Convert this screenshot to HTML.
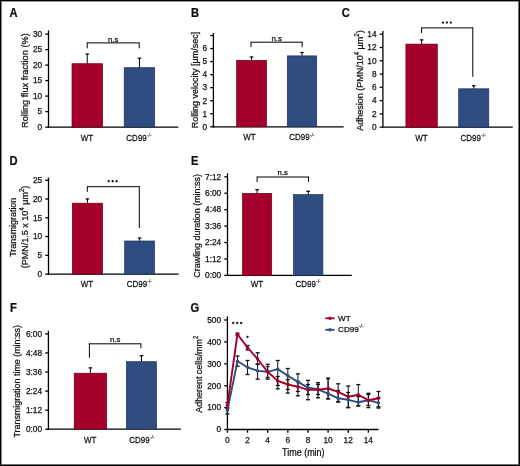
<!DOCTYPE html>
<html><head><meta charset="utf-8"><style>
html,body{margin:0;padding:0;background:#fff;}
.fig{position:relative;width:520px;height:466px;overflow:hidden;}
svg{position:absolute;left:0;top:0;will-change:transform;}
text{font-family:"Liberation Sans", sans-serif;fill:#111;stroke:#111;stroke-width:0.25px;}
</style></head><body><div class="fig">
<svg width="520" height="466" viewBox="0 0 520 466">
<rect x="0" y="0" width="520" height="466" fill="#fff"/>
<line x1="48.50" y1="30.40" x2="48.50" y2="127.75" stroke="#000" stroke-width="1.3"/>
<line x1="47.85" y1="127.10" x2="178.30" y2="127.10" stroke="#000" stroke-width="1.3"/>
<line x1="45.30" y1="127.10" x2="48.50" y2="127.10" stroke="#000" stroke-width="1.3"/>
<text x="42.20" y="129.90" font-size="8.3" text-anchor="end" font-weight="normal" >0</text>
<line x1="45.30" y1="111.60" x2="48.50" y2="111.60" stroke="#000" stroke-width="1.3"/>
<text x="42.20" y="114.40" font-size="8.3" text-anchor="end" font-weight="normal" >5</text>
<line x1="45.30" y1="96.10" x2="48.50" y2="96.10" stroke="#000" stroke-width="1.3"/>
<text x="42.20" y="98.90" font-size="8.3" text-anchor="end" font-weight="normal" >10</text>
<line x1="45.30" y1="80.60" x2="48.50" y2="80.60" stroke="#000" stroke-width="1.3"/>
<text x="42.20" y="83.40" font-size="8.3" text-anchor="end" font-weight="normal" >15</text>
<line x1="45.30" y1="65.10" x2="48.50" y2="65.10" stroke="#000" stroke-width="1.3"/>
<text x="42.20" y="67.90" font-size="8.3" text-anchor="end" font-weight="normal" >20</text>
<line x1="45.30" y1="49.60" x2="48.50" y2="49.60" stroke="#000" stroke-width="1.3"/>
<text x="42.20" y="52.40" font-size="8.3" text-anchor="end" font-weight="normal" >25</text>
<line x1="45.30" y1="34.10" x2="48.50" y2="34.10" stroke="#000" stroke-width="1.3"/>
<text x="42.20" y="36.90" font-size="8.3" text-anchor="end" font-weight="normal" >30</text>
<rect x="72.00" y="63.70" width="30.50" height="63.40" fill="#a5002b" stroke="#6a001c" stroke-width="0.7"/>
<line x1="87.25" y1="63.40" x2="87.25" y2="53.60" stroke="#000" stroke-width="1.0"/>
<line x1="85.45" y1="54.10" x2="89.05" y2="54.10" stroke="#000" stroke-width="1.2"/>
<rect x="124.20" y="67.70" width="30.50" height="59.40" fill="#2f4d80" stroke="#1c2f52" stroke-width="0.7"/>
<line x1="139.45" y1="67.40" x2="139.45" y2="57.70" stroke="#000" stroke-width="1.0"/>
<line x1="137.65" y1="58.20" x2="141.25" y2="58.20" stroke="#000" stroke-width="1.2"/>
<line x1="87.20" y1="48.30" x2="87.20" y2="42.40" stroke="#000" stroke-width="1.0"/>
<line x1="87.20" y1="42.90" x2="139.20" y2="42.90" stroke="#000" stroke-width="1.0"/>
<line x1="139.20" y1="42.40" x2="139.20" y2="48.30" stroke="#000" stroke-width="1.0"/>
<text x="113.20" y="41.60" font-size="7.8" text-anchor="middle" font-weight="normal" >n.s</text>
<text transform="translate(87.00,140.60) scale(0.87,1)" font-size="9.2" text-anchor="middle" font-weight="normal" >WT</text>
<text transform="translate(139.05,140.60) scale(0.87,1)" font-size="9.2" text-anchor="middle">CD99<tspan font-size="6.07" dy="-3.86" style="stroke-width:0.12px">-/-</tspan></text>
<text transform="translate(27.70,80.60) rotate(-90)" font-size="9.8" text-anchor="middle" textLength="94.70" lengthAdjust="spacingAndGlyphs">Rolling flux fraction (%)</text>
<text transform="translate(9.40,16.90) scale(0.93,1)" font-size="12" text-anchor="start" font-weight="bold" >A</text>
<line x1="213.40" y1="33.00" x2="213.40" y2="127.45" stroke="#000" stroke-width="1.3"/>
<line x1="212.75" y1="126.80" x2="343.70" y2="126.80" stroke="#000" stroke-width="1.3"/>
<line x1="210.20" y1="126.80" x2="213.40" y2="126.80" stroke="#000" stroke-width="1.3"/>
<text x="207.10" y="129.60" font-size="8.3" text-anchor="end" font-weight="normal" >0</text>
<line x1="210.20" y1="113.76" x2="213.40" y2="113.76" stroke="#000" stroke-width="1.3"/>
<text x="207.10" y="116.56" font-size="8.3" text-anchor="end" font-weight="normal" >1</text>
<line x1="210.20" y1="100.72" x2="213.40" y2="100.72" stroke="#000" stroke-width="1.3"/>
<text x="207.10" y="103.52" font-size="8.3" text-anchor="end" font-weight="normal" >2</text>
<line x1="210.20" y1="87.68" x2="213.40" y2="87.68" stroke="#000" stroke-width="1.3"/>
<text x="207.10" y="90.48" font-size="8.3" text-anchor="end" font-weight="normal" >3</text>
<line x1="210.20" y1="74.64" x2="213.40" y2="74.64" stroke="#000" stroke-width="1.3"/>
<text x="207.10" y="77.44" font-size="8.3" text-anchor="end" font-weight="normal" >4</text>
<line x1="210.20" y1="61.60" x2="213.40" y2="61.60" stroke="#000" stroke-width="1.3"/>
<text x="207.10" y="64.40" font-size="8.3" text-anchor="end" font-weight="normal" >5</text>
<line x1="210.20" y1="48.56" x2="213.40" y2="48.56" stroke="#000" stroke-width="1.3"/>
<text x="207.10" y="51.36" font-size="8.3" text-anchor="end" font-weight="normal" >6</text>
<line x1="210.20" y1="35.52" x2="213.40" y2="35.52" stroke="#000" stroke-width="1.3"/>
<rect x="236.60" y="60.40" width="29.90" height="66.40" fill="#a5002b" stroke="#6a001c" stroke-width="0.7"/>
<line x1="251.55" y1="60.10" x2="251.55" y2="56.50" stroke="#000" stroke-width="1.0"/>
<line x1="249.75" y1="57.00" x2="253.35" y2="57.00" stroke="#000" stroke-width="1.2"/>
<rect x="287.30" y="55.90" width="29.40" height="70.90" fill="#2f4d80" stroke="#1c2f52" stroke-width="0.7"/>
<line x1="302.00" y1="55.60" x2="302.00" y2="52.00" stroke="#000" stroke-width="1.0"/>
<line x1="300.20" y1="52.50" x2="303.80" y2="52.50" stroke="#000" stroke-width="1.2"/>
<line x1="251.00" y1="47.20" x2="251.00" y2="41.70" stroke="#000" stroke-width="1.0"/>
<line x1="251.00" y1="42.20" x2="302.20" y2="42.20" stroke="#000" stroke-width="1.0"/>
<line x1="302.20" y1="41.70" x2="302.20" y2="47.20" stroke="#000" stroke-width="1.0"/>
<text x="276.60" y="40.60" font-size="7.8" text-anchor="middle" font-weight="normal" >n.s</text>
<text transform="translate(249.40,140.40) scale(0.87,1)" font-size="9.2" text-anchor="middle" font-weight="normal" >WT</text>
<text transform="translate(301.90,140.40) scale(0.87,1)" font-size="9.2" text-anchor="middle">CD99<tspan font-size="6.07" dy="-3.86" style="stroke-width:0.12px">-/-</tspan></text>
<text transform="translate(197.50,80.10) rotate(-90)" font-size="9.8" text-anchor="middle" textLength="96.50" lengthAdjust="spacingAndGlyphs">Rolling velocity [µm/sec]</text>
<text transform="translate(191.10,16.90) scale(0.93,1)" font-size="12" text-anchor="start" font-weight="bold" >B</text>
<line x1="382.90" y1="31.10" x2="382.90" y2="127.85" stroke="#000" stroke-width="1.3"/>
<line x1="382.25" y1="127.20" x2="512.80" y2="127.20" stroke="#000" stroke-width="1.3"/>
<line x1="379.70" y1="127.20" x2="382.90" y2="127.20" stroke="#000" stroke-width="1.3"/>
<text x="376.60" y="130.00" font-size="8.3" text-anchor="end" font-weight="normal" >0</text>
<line x1="379.70" y1="113.91" x2="382.90" y2="113.91" stroke="#000" stroke-width="1.3"/>
<text x="376.60" y="116.71" font-size="8.3" text-anchor="end" font-weight="normal" >2</text>
<line x1="379.70" y1="100.63" x2="382.90" y2="100.63" stroke="#000" stroke-width="1.3"/>
<text x="376.60" y="103.43" font-size="8.3" text-anchor="end" font-weight="normal" >4</text>
<line x1="379.70" y1="87.34" x2="382.90" y2="87.34" stroke="#000" stroke-width="1.3"/>
<text x="376.60" y="90.14" font-size="8.3" text-anchor="end" font-weight="normal" >6</text>
<line x1="379.70" y1="74.06" x2="382.90" y2="74.06" stroke="#000" stroke-width="1.3"/>
<text x="376.60" y="76.86" font-size="8.3" text-anchor="end" font-weight="normal" >8</text>
<line x1="379.70" y1="60.77" x2="382.90" y2="60.77" stroke="#000" stroke-width="1.3"/>
<text x="376.60" y="63.57" font-size="8.3" text-anchor="end" font-weight="normal" >10</text>
<line x1="379.70" y1="47.49" x2="382.90" y2="47.49" stroke="#000" stroke-width="1.3"/>
<text x="376.60" y="50.29" font-size="8.3" text-anchor="end" font-weight="normal" >12</text>
<line x1="379.70" y1="34.20" x2="382.90" y2="34.20" stroke="#000" stroke-width="1.3"/>
<text x="376.60" y="37.00" font-size="8.3" text-anchor="end" font-weight="normal" >14</text>
<rect x="405.90" y="44.10" width="31.40" height="83.10" fill="#a5002b" stroke="#6a001c" stroke-width="0.7"/>
<line x1="421.60" y1="43.80" x2="421.60" y2="39.40" stroke="#000" stroke-width="1.0"/>
<line x1="419.80" y1="39.90" x2="423.40" y2="39.90" stroke="#000" stroke-width="1.2"/>
<rect x="458.70" y="88.80" width="30.10" height="38.40" fill="#2f4d80" stroke="#1c2f52" stroke-width="0.7"/>
<line x1="473.75" y1="88.50" x2="473.75" y2="85.20" stroke="#000" stroke-width="1.0"/>
<line x1="471.95" y1="85.70" x2="475.55" y2="85.70" stroke="#000" stroke-width="1.2"/>
<line x1="421.60" y1="33.20" x2="421.60" y2="27.40" stroke="#000" stroke-width="1.0"/>
<line x1="421.60" y1="27.90" x2="472.80" y2="27.90" stroke="#000" stroke-width="1.0"/>
<line x1="472.80" y1="27.40" x2="472.80" y2="76.80" stroke="#000" stroke-width="1.0"/>
<circle cx="443.00" cy="22.60" r="1.15" fill="#111"/>
<circle cx="446.90" cy="22.60" r="1.15" fill="#111"/>
<circle cx="450.80" cy="22.60" r="1.15" fill="#111"/>
<text transform="translate(421.50,141.00) scale(0.87,1)" font-size="9.2" text-anchor="middle" font-weight="normal" >WT</text>
<text transform="translate(473.15,141.00) scale(0.87,1)" font-size="9.2" text-anchor="middle">CD99<tspan font-size="6.07" dy="-3.86" style="stroke-width:0.12px">-/-</tspan></text>
<text transform="translate(362.90,80.60) rotate(-90)" font-size="9.8" text-anchor="middle" textLength="100.50" lengthAdjust="spacingAndGlyphs">Adhesion (PMN/10<tspan font-size="6.5" dy="-4.3">4</tspan><tspan dy="4.3"> µm</tspan><tspan font-size="6.5" dy="-4.3">2</tspan><tspan dy="4.3">)</tspan></text>
<text transform="translate(341.70,17.10) scale(0.93,1)" font-size="12" text-anchor="start" font-weight="bold" >C</text>
<line x1="48.50" y1="177.60" x2="48.50" y2="274.75" stroke="#000" stroke-width="1.3"/>
<line x1="47.85" y1="274.10" x2="178.60" y2="274.10" stroke="#000" stroke-width="1.3"/>
<line x1="45.30" y1="274.10" x2="48.50" y2="274.10" stroke="#000" stroke-width="1.3"/>
<text x="42.20" y="276.90" font-size="8.3" text-anchor="end" font-weight="normal" >0</text>
<line x1="45.30" y1="255.34" x2="48.50" y2="255.34" stroke="#000" stroke-width="1.3"/>
<text x="42.20" y="258.14" font-size="8.3" text-anchor="end" font-weight="normal" >5</text>
<line x1="45.30" y1="236.58" x2="48.50" y2="236.58" stroke="#000" stroke-width="1.3"/>
<text x="42.20" y="239.38" font-size="8.3" text-anchor="end" font-weight="normal" >10</text>
<line x1="45.30" y1="217.82" x2="48.50" y2="217.82" stroke="#000" stroke-width="1.3"/>
<text x="42.20" y="220.62" font-size="8.3" text-anchor="end" font-weight="normal" >15</text>
<line x1="45.30" y1="199.06" x2="48.50" y2="199.06" stroke="#000" stroke-width="1.3"/>
<text x="42.20" y="201.86" font-size="8.3" text-anchor="end" font-weight="normal" >20</text>
<line x1="45.30" y1="180.30" x2="48.50" y2="180.30" stroke="#000" stroke-width="1.3"/>
<text x="42.20" y="183.10" font-size="8.3" text-anchor="end" font-weight="normal" >25</text>
<rect x="72.30" y="203.20" width="30.30" height="70.90" fill="#a5002b" stroke="#6a001c" stroke-width="0.7"/>
<line x1="87.45" y1="202.90" x2="87.45" y2="198.40" stroke="#000" stroke-width="1.0"/>
<line x1="85.65" y1="198.90" x2="89.25" y2="198.90" stroke="#000" stroke-width="1.2"/>
<rect x="124.70" y="241.00" width="29.80" height="33.10" fill="#2f4d80" stroke="#1c2f52" stroke-width="0.7"/>
<line x1="139.60" y1="240.70" x2="139.60" y2="237.60" stroke="#000" stroke-width="1.0"/>
<line x1="137.80" y1="238.10" x2="141.40" y2="238.10" stroke="#000" stroke-width="1.2"/>
<line x1="87.30" y1="191.80" x2="87.30" y2="186.20" stroke="#000" stroke-width="1.0"/>
<line x1="87.30" y1="186.70" x2="139.30" y2="186.70" stroke="#000" stroke-width="1.0"/>
<line x1="139.30" y1="186.20" x2="139.30" y2="228.00" stroke="#000" stroke-width="1.0"/>
<circle cx="108.75" cy="181.25" r="1.15" fill="#111"/>
<circle cx="112.65" cy="181.25" r="1.15" fill="#111"/>
<circle cx="116.55" cy="181.25" r="1.15" fill="#111"/>
<text transform="translate(86.90,287.10) scale(0.87,1)" font-size="9.2" text-anchor="middle" font-weight="normal" >WT</text>
<text transform="translate(139.40,287.10) scale(0.87,1)" font-size="9.2" text-anchor="middle">CD99<tspan font-size="6.07" dy="-3.86" style="stroke-width:0.12px">-/-</tspan></text>
<text transform="translate(15.60,227.25) rotate(-90)" font-size="9.6" text-anchor="middle" textLength="59.00" lengthAdjust="spacingAndGlyphs">Transmigration</text>
<text transform="translate(27.90,226.95) rotate(-90)" font-size="9.6" text-anchor="middle" textLength="82.50" lengthAdjust="spacingAndGlyphs">(PMN/1.5 x 10<tspan font-size="6.5" dy="-4.3">4</tspan><tspan dy="4.3"> µm</tspan><tspan font-size="6.5" dy="-4.3">2</tspan><tspan dy="4.3">)</tspan></text>
<text transform="translate(9.40,164.80) scale(0.93,1)" font-size="12" text-anchor="start" font-weight="bold" >D</text>
<line x1="227.50" y1="173.30" x2="227.50" y2="276.05" stroke="#000" stroke-width="1.3"/>
<line x1="226.85" y1="275.40" x2="351.80" y2="275.40" stroke="#000" stroke-width="1.3"/>
<line x1="224.30" y1="275.40" x2="227.50" y2="275.40" stroke="#000" stroke-width="1.3"/>
<text x="221.20" y="278.20" font-size="8.3" text-anchor="end" font-weight="normal" >0:00</text>
<line x1="224.30" y1="258.97" x2="227.50" y2="258.97" stroke="#000" stroke-width="1.3"/>
<text x="221.20" y="261.77" font-size="8.3" text-anchor="end" font-weight="normal" >1:12</text>
<line x1="224.30" y1="242.53" x2="227.50" y2="242.53" stroke="#000" stroke-width="1.3"/>
<text x="221.20" y="245.33" font-size="8.3" text-anchor="end" font-weight="normal" >2:24</text>
<line x1="224.30" y1="226.10" x2="227.50" y2="226.10" stroke="#000" stroke-width="1.3"/>
<text x="221.20" y="228.90" font-size="8.3" text-anchor="end" font-weight="normal" >3:36</text>
<line x1="224.30" y1="209.67" x2="227.50" y2="209.67" stroke="#000" stroke-width="1.3"/>
<text x="221.20" y="212.47" font-size="8.3" text-anchor="end" font-weight="normal" >4:48</text>
<line x1="224.30" y1="193.23" x2="227.50" y2="193.23" stroke="#000" stroke-width="1.3"/>
<text x="221.20" y="196.03" font-size="8.3" text-anchor="end" font-weight="normal" >6:00</text>
<line x1="224.30" y1="176.80" x2="227.50" y2="176.80" stroke="#000" stroke-width="1.3"/>
<text x="221.20" y="179.60" font-size="8.3" text-anchor="end" font-weight="normal" >7:12</text>
<rect x="242.50" y="193.40" width="29.20" height="82.00" fill="#a5002b" stroke="#6a001c" stroke-width="0.7"/>
<line x1="257.10" y1="193.10" x2="257.10" y2="189.20" stroke="#000" stroke-width="1.0"/>
<line x1="255.30" y1="189.70" x2="258.90" y2="189.70" stroke="#000" stroke-width="1.2"/>
<rect x="293.50" y="194.60" width="29.40" height="80.80" fill="#2f4d80" stroke="#1c2f52" stroke-width="0.7"/>
<line x1="308.20" y1="194.30" x2="308.20" y2="190.80" stroke="#000" stroke-width="1.0"/>
<line x1="306.40" y1="191.30" x2="310.00" y2="191.30" stroke="#000" stroke-width="1.2"/>
<line x1="257.10" y1="182.00" x2="257.10" y2="176.50" stroke="#000" stroke-width="1.0"/>
<line x1="257.10" y1="177.00" x2="308.50" y2="177.00" stroke="#000" stroke-width="1.0"/>
<line x1="308.50" y1="176.50" x2="308.50" y2="182.00" stroke="#000" stroke-width="1.0"/>
<text x="282.80" y="175.00" font-size="7.8" text-anchor="middle" font-weight="normal" >n.s</text>
<text transform="translate(256.90,286.90) scale(0.87,1)" font-size="9.2" text-anchor="middle" font-weight="normal" >WT</text>
<text transform="translate(308.15,286.90) scale(0.87,1)" font-size="9.2" text-anchor="middle">CD99<tspan font-size="6.07" dy="-3.86" style="stroke-width:0.12px">-/-</tspan></text>
<text transform="translate(200.30,225.90) rotate(-90)" font-size="9.8" text-anchor="middle" textLength="103.50" lengthAdjust="spacingAndGlyphs">Crawling duration (min:ss)</text>
<text transform="translate(190.90,165.00) scale(0.93,1)" font-size="12" text-anchor="start" font-weight="bold" >E</text>
<line x1="48.40" y1="330.80" x2="48.40" y2="429.85" stroke="#000" stroke-width="1.3"/>
<line x1="47.75" y1="429.20" x2="180.80" y2="429.20" stroke="#000" stroke-width="1.3"/>
<line x1="45.20" y1="429.20" x2="48.40" y2="429.20" stroke="#000" stroke-width="1.3"/>
<text x="42.10" y="432.00" font-size="8.3" text-anchor="end" font-weight="normal" >0:00</text>
<line x1="45.20" y1="410.14" x2="48.40" y2="410.14" stroke="#000" stroke-width="1.3"/>
<text x="42.10" y="412.94" font-size="8.3" text-anchor="end" font-weight="normal" >1:12</text>
<line x1="45.20" y1="391.08" x2="48.40" y2="391.08" stroke="#000" stroke-width="1.3"/>
<text x="42.10" y="393.88" font-size="8.3" text-anchor="end" font-weight="normal" >2:24</text>
<line x1="45.20" y1="372.02" x2="48.40" y2="372.02" stroke="#000" stroke-width="1.3"/>
<text x="42.10" y="374.82" font-size="8.3" text-anchor="end" font-weight="normal" >3:36</text>
<line x1="45.20" y1="352.96" x2="48.40" y2="352.96" stroke="#000" stroke-width="1.3"/>
<text x="42.10" y="355.76" font-size="8.3" text-anchor="end" font-weight="normal" >4:48</text>
<line x1="45.20" y1="333.90" x2="48.40" y2="333.90" stroke="#000" stroke-width="1.3"/>
<text x="42.10" y="336.70" font-size="8.3" text-anchor="end" font-weight="normal" >6:00</text>
<rect x="74.20" y="373.20" width="32.40" height="56.00" fill="#a5002b" stroke="#6a001c" stroke-width="0.7"/>
<line x1="90.40" y1="372.90" x2="90.40" y2="367.40" stroke="#000" stroke-width="1.0"/>
<line x1="88.60" y1="367.90" x2="92.20" y2="367.90" stroke="#000" stroke-width="1.2"/>
<rect x="126.40" y="361.70" width="30.10" height="67.50" fill="#2f4d80" stroke="#1c2f52" stroke-width="0.7"/>
<line x1="141.45" y1="361.40" x2="141.45" y2="355.20" stroke="#000" stroke-width="1.0"/>
<line x1="139.65" y1="355.70" x2="143.25" y2="355.70" stroke="#000" stroke-width="1.2"/>
<line x1="89.40" y1="357.70" x2="89.40" y2="343.30" stroke="#000" stroke-width="1.0"/>
<line x1="89.40" y1="343.80" x2="140.90" y2="343.80" stroke="#000" stroke-width="1.0"/>
<line x1="140.90" y1="343.30" x2="140.90" y2="348.30" stroke="#000" stroke-width="1.0"/>
<text x="115.15" y="342.10" font-size="7.8" text-anchor="middle" font-weight="normal" >n.s</text>
<text transform="translate(90.20,442.60) scale(0.87,1)" font-size="9.2" text-anchor="middle" font-weight="normal" >WT</text>
<text transform="translate(142.00,442.60) scale(0.87,1)" font-size="9.2" text-anchor="middle">CD99<tspan font-size="6.07" dy="-3.86" style="stroke-width:0.12px">-/-</tspan></text>
<text transform="translate(20.20,381.35) rotate(-90)" font-size="9.8" text-anchor="middle" textLength="112.50" lengthAdjust="spacingAndGlyphs">Transmigration time (min:ss)</text>
<text transform="translate(9.90,311.80) scale(0.93,1)" font-size="12" text-anchor="start" font-weight="bold" >F</text>
<line x1="227.40" y1="316.40" x2="227.40" y2="430.15" stroke="#000" stroke-width="1.3"/>
<line x1="226.75" y1="429.50" x2="378.50" y2="429.50" stroke="#000" stroke-width="1.3"/>
<line x1="224.20" y1="429.50" x2="227.40" y2="429.50" stroke="#000" stroke-width="1.3"/>
<text x="221.10" y="432.30" font-size="8.3" text-anchor="end" font-weight="normal" >0</text>
<line x1="224.20" y1="407.60" x2="227.40" y2="407.60" stroke="#000" stroke-width="1.3"/>
<text x="221.10" y="410.40" font-size="8.3" text-anchor="end" font-weight="normal" >100</text>
<line x1="224.20" y1="385.70" x2="227.40" y2="385.70" stroke="#000" stroke-width="1.3"/>
<text x="221.10" y="388.50" font-size="8.3" text-anchor="end" font-weight="normal" >200</text>
<line x1="224.20" y1="363.80" x2="227.40" y2="363.80" stroke="#000" stroke-width="1.3"/>
<text x="221.10" y="366.60" font-size="8.3" text-anchor="end" font-weight="normal" >300</text>
<line x1="224.20" y1="341.90" x2="227.40" y2="341.90" stroke="#000" stroke-width="1.3"/>
<text x="221.10" y="344.70" font-size="8.3" text-anchor="end" font-weight="normal" >400</text>
<line x1="224.20" y1="320.00" x2="227.40" y2="320.00" stroke="#000" stroke-width="1.3"/>
<text x="221.10" y="322.80" font-size="8.3" text-anchor="end" font-weight="normal" >500</text>
<line x1="227.40" y1="429.50" x2="227.40" y2="432.70" stroke="#000" stroke-width="1.3"/>
<text x="227.40" y="442.80" font-size="8.3" text-anchor="middle" font-weight="normal" >0</text>
<line x1="247.54" y1="429.50" x2="247.54" y2="432.70" stroke="#000" stroke-width="1.3"/>
<text x="247.54" y="442.80" font-size="8.3" text-anchor="middle" font-weight="normal" >2</text>
<line x1="267.68" y1="429.50" x2="267.68" y2="432.70" stroke="#000" stroke-width="1.3"/>
<text x="267.68" y="442.80" font-size="8.3" text-anchor="middle" font-weight="normal" >4</text>
<line x1="287.82" y1="429.50" x2="287.82" y2="432.70" stroke="#000" stroke-width="1.3"/>
<text x="287.82" y="442.80" font-size="8.3" text-anchor="middle" font-weight="normal" >6</text>
<line x1="307.96" y1="429.50" x2="307.96" y2="432.70" stroke="#000" stroke-width="1.3"/>
<text x="307.96" y="442.80" font-size="8.3" text-anchor="middle" font-weight="normal" >8</text>
<line x1="328.10" y1="429.50" x2="328.10" y2="432.70" stroke="#000" stroke-width="1.3"/>
<text x="328.10" y="442.80" font-size="8.3" text-anchor="middle" font-weight="normal" >10</text>
<line x1="348.24" y1="429.50" x2="348.24" y2="432.70" stroke="#000" stroke-width="1.3"/>
<text x="348.24" y="442.80" font-size="8.3" text-anchor="middle" font-weight="normal" >12</text>
<line x1="368.38" y1="429.50" x2="368.38" y2="432.70" stroke="#000" stroke-width="1.3"/>
<text x="368.38" y="442.80" font-size="8.3" text-anchor="middle" font-weight="normal" >14</text>
<text transform="translate(303.30,456.30) scale(0.9,1)" font-size="10.0" text-anchor="middle" font-weight="normal" >Time (min)</text>
<text transform="translate(202.10,374.25) rotate(-90)" font-size="9.8" text-anchor="middle" textLength="77.00" lengthAdjust="spacingAndGlyphs">Adherent cells/mm<tspan font-size="6.5" dy="-4.3">2</tspan></text>
<text transform="translate(190.40,311.80) scale(0.93,1)" font-size="12" text-anchor="start" font-weight="bold" >G</text>
<line x1="227.40" y1="407.00" x2="227.40" y2="414.30" stroke="#111" stroke-width="1.0"/>
<line x1="225.40" y1="407.50" x2="229.40" y2="407.50" stroke="#111" stroke-width="1.3"/>
<line x1="225.40" y1="413.80" x2="229.40" y2="413.80" stroke="#111" stroke-width="1.3"/>
<line x1="237.47" y1="355.60" x2="237.47" y2="366.80" stroke="#111" stroke-width="1.0"/>
<line x1="235.47" y1="356.10" x2="239.47" y2="356.10" stroke="#111" stroke-width="1.3"/>
<line x1="235.47" y1="366.30" x2="239.47" y2="366.30" stroke="#111" stroke-width="1.3"/>
<line x1="247.54" y1="360.00" x2="247.54" y2="375.00" stroke="#111" stroke-width="1.0"/>
<line x1="245.54" y1="360.50" x2="249.54" y2="360.50" stroke="#111" stroke-width="1.3"/>
<line x1="245.54" y1="374.50" x2="249.54" y2="374.50" stroke="#111" stroke-width="1.3"/>
<line x1="257.61" y1="363.80" x2="257.61" y2="379.60" stroke="#111" stroke-width="1.0"/>
<line x1="255.61" y1="364.30" x2="259.61" y2="364.30" stroke="#111" stroke-width="1.3"/>
<line x1="255.61" y1="379.10" x2="259.61" y2="379.10" stroke="#111" stroke-width="1.3"/>
<line x1="267.68" y1="363.80" x2="267.68" y2="379.60" stroke="#111" stroke-width="1.0"/>
<line x1="265.68" y1="364.30" x2="269.68" y2="364.30" stroke="#111" stroke-width="1.3"/>
<line x1="265.68" y1="379.10" x2="269.68" y2="379.10" stroke="#111" stroke-width="1.3"/>
<line x1="277.75" y1="360.00" x2="277.75" y2="389.30" stroke="#111" stroke-width="1.0"/>
<line x1="275.75" y1="360.50" x2="279.75" y2="360.50" stroke="#111" stroke-width="1.3"/>
<line x1="275.75" y1="388.80" x2="279.75" y2="388.80" stroke="#111" stroke-width="1.3"/>
<line x1="287.82" y1="368.00" x2="287.82" y2="393.50" stroke="#111" stroke-width="1.0"/>
<line x1="285.82" y1="368.50" x2="289.82" y2="368.50" stroke="#111" stroke-width="1.3"/>
<line x1="285.82" y1="393.00" x2="289.82" y2="393.00" stroke="#111" stroke-width="1.3"/>
<line x1="297.89" y1="373.40" x2="297.89" y2="396.30" stroke="#111" stroke-width="1.0"/>
<line x1="295.89" y1="373.90" x2="299.89" y2="373.90" stroke="#111" stroke-width="1.3"/>
<line x1="295.89" y1="395.80" x2="299.89" y2="395.80" stroke="#111" stroke-width="1.3"/>
<line x1="307.96" y1="379.90" x2="307.96" y2="400.20" stroke="#111" stroke-width="1.0"/>
<line x1="305.96" y1="380.40" x2="309.96" y2="380.40" stroke="#111" stroke-width="1.3"/>
<line x1="305.96" y1="399.70" x2="309.96" y2="399.70" stroke="#111" stroke-width="1.3"/>
<line x1="318.03" y1="382.20" x2="318.03" y2="398.30" stroke="#111" stroke-width="1.0"/>
<line x1="316.03" y1="382.70" x2="320.03" y2="382.70" stroke="#111" stroke-width="1.3"/>
<line x1="316.03" y1="397.80" x2="320.03" y2="397.80" stroke="#111" stroke-width="1.3"/>
<line x1="328.10" y1="377.70" x2="328.10" y2="399.20" stroke="#111" stroke-width="1.0"/>
<line x1="326.10" y1="378.20" x2="330.10" y2="378.20" stroke="#111" stroke-width="1.3"/>
<line x1="326.10" y1="398.70" x2="330.10" y2="398.70" stroke="#111" stroke-width="1.3"/>
<line x1="338.17" y1="390.00" x2="338.17" y2="402.30" stroke="#111" stroke-width="1.0"/>
<line x1="336.17" y1="390.50" x2="340.17" y2="390.50" stroke="#111" stroke-width="1.3"/>
<line x1="336.17" y1="401.80" x2="340.17" y2="401.80" stroke="#111" stroke-width="1.3"/>
<line x1="348.24" y1="392.00" x2="348.24" y2="408.00" stroke="#111" stroke-width="1.0"/>
<line x1="346.24" y1="392.50" x2="350.24" y2="392.50" stroke="#111" stroke-width="1.3"/>
<line x1="346.24" y1="407.50" x2="350.24" y2="407.50" stroke="#111" stroke-width="1.3"/>
<line x1="358.31" y1="396.00" x2="358.31" y2="406.30" stroke="#111" stroke-width="1.0"/>
<line x1="356.31" y1="396.50" x2="360.31" y2="396.50" stroke="#111" stroke-width="1.3"/>
<line x1="356.31" y1="405.80" x2="360.31" y2="405.80" stroke="#111" stroke-width="1.3"/>
<line x1="368.38" y1="394.00" x2="368.38" y2="406.00" stroke="#111" stroke-width="1.0"/>
<line x1="366.38" y1="394.50" x2="370.38" y2="394.50" stroke="#111" stroke-width="1.3"/>
<line x1="366.38" y1="405.50" x2="370.38" y2="405.50" stroke="#111" stroke-width="1.3"/>
<line x1="378.45" y1="397.00" x2="378.45" y2="408.50" stroke="#111" stroke-width="1.0"/>
<line x1="376.45" y1="397.50" x2="380.45" y2="397.50" stroke="#111" stroke-width="1.3"/>
<line x1="376.45" y1="408.00" x2="380.45" y2="408.00" stroke="#111" stroke-width="1.3"/>
<line x1="227.40" y1="402.00" x2="227.40" y2="409.00" stroke="#111" stroke-width="1.0"/>
<line x1="225.40" y1="402.50" x2="229.40" y2="402.50" stroke="#111" stroke-width="1.3"/>
<line x1="225.40" y1="408.50" x2="229.40" y2="408.50" stroke="#111" stroke-width="1.3"/>
<line x1="237.47" y1="332.70" x2="237.47" y2="335.70" stroke="#111" stroke-width="1.0"/>
<line x1="235.47" y1="333.20" x2="239.47" y2="333.20" stroke="#111" stroke-width="1.3"/>
<line x1="235.47" y1="335.20" x2="239.47" y2="335.20" stroke="#111" stroke-width="1.3"/>
<line x1="247.54" y1="345.00" x2="247.54" y2="350.30" stroke="#111" stroke-width="1.0"/>
<line x1="245.54" y1="345.50" x2="249.54" y2="345.50" stroke="#111" stroke-width="1.3"/>
<line x1="245.54" y1="349.80" x2="249.54" y2="349.80" stroke="#111" stroke-width="1.3"/>
<line x1="257.61" y1="352.30" x2="257.61" y2="364.60" stroke="#111" stroke-width="1.0"/>
<line x1="255.61" y1="352.80" x2="259.61" y2="352.80" stroke="#111" stroke-width="1.3"/>
<line x1="255.61" y1="364.10" x2="259.61" y2="364.10" stroke="#111" stroke-width="1.3"/>
<line x1="267.68" y1="366.00" x2="267.68" y2="378.00" stroke="#111" stroke-width="1.0"/>
<line x1="265.68" y1="366.50" x2="269.68" y2="366.50" stroke="#111" stroke-width="1.3"/>
<line x1="265.68" y1="377.50" x2="269.68" y2="377.50" stroke="#111" stroke-width="1.3"/>
<line x1="277.75" y1="376.00" x2="277.75" y2="386.00" stroke="#111" stroke-width="1.0"/>
<line x1="275.75" y1="376.50" x2="279.75" y2="376.50" stroke="#111" stroke-width="1.3"/>
<line x1="275.75" y1="385.50" x2="279.75" y2="385.50" stroke="#111" stroke-width="1.3"/>
<line x1="287.82" y1="379.00" x2="287.82" y2="390.00" stroke="#111" stroke-width="1.0"/>
<line x1="285.82" y1="379.50" x2="289.82" y2="379.50" stroke="#111" stroke-width="1.3"/>
<line x1="285.82" y1="389.50" x2="289.82" y2="389.50" stroke="#111" stroke-width="1.3"/>
<line x1="297.89" y1="381.00" x2="297.89" y2="392.00" stroke="#111" stroke-width="1.0"/>
<line x1="295.89" y1="381.50" x2="299.89" y2="381.50" stroke="#111" stroke-width="1.3"/>
<line x1="295.89" y1="391.50" x2="299.89" y2="391.50" stroke="#111" stroke-width="1.3"/>
<line x1="307.96" y1="384.00" x2="307.96" y2="395.00" stroke="#111" stroke-width="1.0"/>
<line x1="305.96" y1="384.50" x2="309.96" y2="384.50" stroke="#111" stroke-width="1.3"/>
<line x1="305.96" y1="394.50" x2="309.96" y2="394.50" stroke="#111" stroke-width="1.3"/>
<line x1="318.03" y1="384.00" x2="318.03" y2="395.00" stroke="#111" stroke-width="1.0"/>
<line x1="316.03" y1="384.50" x2="320.03" y2="384.50" stroke="#111" stroke-width="1.3"/>
<line x1="316.03" y1="394.50" x2="320.03" y2="394.50" stroke="#111" stroke-width="1.3"/>
<line x1="328.10" y1="378.10" x2="328.10" y2="399.40" stroke="#111" stroke-width="1.0"/>
<line x1="326.10" y1="378.60" x2="330.10" y2="378.60" stroke="#111" stroke-width="1.3"/>
<line x1="326.10" y1="398.90" x2="330.10" y2="398.90" stroke="#111" stroke-width="1.3"/>
<line x1="338.17" y1="383.30" x2="338.17" y2="402.30" stroke="#111" stroke-width="1.0"/>
<line x1="336.17" y1="383.80" x2="340.17" y2="383.80" stroke="#111" stroke-width="1.3"/>
<line x1="336.17" y1="401.80" x2="340.17" y2="401.80" stroke="#111" stroke-width="1.3"/>
<line x1="348.24" y1="385.60" x2="348.24" y2="408.10" stroke="#111" stroke-width="1.0"/>
<line x1="346.24" y1="386.10" x2="350.24" y2="386.10" stroke="#111" stroke-width="1.3"/>
<line x1="346.24" y1="407.60" x2="350.24" y2="407.60" stroke="#111" stroke-width="1.3"/>
<line x1="358.31" y1="384.10" x2="358.31" y2="406.30" stroke="#111" stroke-width="1.0"/>
<line x1="356.31" y1="384.60" x2="360.31" y2="384.60" stroke="#111" stroke-width="1.3"/>
<line x1="356.31" y1="405.80" x2="360.31" y2="405.80" stroke="#111" stroke-width="1.3"/>
<line x1="368.38" y1="392.80" x2="368.38" y2="408.10" stroke="#111" stroke-width="1.0"/>
<line x1="366.38" y1="393.30" x2="370.38" y2="393.30" stroke="#111" stroke-width="1.3"/>
<line x1="366.38" y1="407.60" x2="370.38" y2="407.60" stroke="#111" stroke-width="1.3"/>
<line x1="378.45" y1="391.00" x2="378.45" y2="407.20" stroke="#111" stroke-width="1.0"/>
<line x1="376.45" y1="391.50" x2="380.45" y2="391.50" stroke="#111" stroke-width="1.3"/>
<line x1="376.45" y1="406.70" x2="380.45" y2="406.70" stroke="#111" stroke-width="1.3"/>
<polyline points="227.40,410.40 237.47,361.30 247.54,367.30 257.61,370.90 267.68,371.80 277.75,369.10 287.82,375.70 297.89,381.90 307.96,387.60 318.03,389.30 328.10,393.70 338.17,398.30 348.24,399.80 358.31,402.30 368.38,400.20 378.45,402.90" fill="none" stroke="#2f4d80" stroke-width="1.9" stroke-linejoin="round"/>
<polyline points="227.40,405.30 237.47,334.20 247.54,347.60 257.61,359.00 267.68,371.80 277.75,380.90 287.82,384.50 297.89,386.70 307.96,389.90 318.03,389.70 328.10,388.50 338.17,391.90 348.24,396.80 358.31,394.80 368.38,400.20 378.45,398.30" fill="none" stroke="#a5002b" stroke-width="1.9" stroke-linejoin="round"/>
<circle cx="227.40" cy="410.40" r="1.7" fill="#2f4d80"/>
<circle cx="237.47" cy="361.30" r="1.7" fill="#2f4d80"/>
<circle cx="247.54" cy="367.30" r="1.7" fill="#2f4d80"/>
<circle cx="257.61" cy="370.90" r="1.7" fill="#2f4d80"/>
<circle cx="267.68" cy="371.80" r="1.7" fill="#2f4d80"/>
<circle cx="277.75" cy="369.10" r="1.7" fill="#2f4d80"/>
<circle cx="287.82" cy="375.70" r="1.7" fill="#2f4d80"/>
<circle cx="297.89" cy="381.90" r="1.7" fill="#2f4d80"/>
<circle cx="307.96" cy="387.60" r="1.7" fill="#2f4d80"/>
<circle cx="318.03" cy="389.30" r="1.7" fill="#2f4d80"/>
<circle cx="328.10" cy="393.70" r="1.7" fill="#2f4d80"/>
<circle cx="338.17" cy="398.30" r="1.7" fill="#2f4d80"/>
<circle cx="348.24" cy="399.80" r="1.7" fill="#2f4d80"/>
<circle cx="358.31" cy="402.30" r="1.7" fill="#2f4d80"/>
<circle cx="368.38" cy="400.20" r="1.7" fill="#2f4d80"/>
<circle cx="378.45" cy="402.90" r="1.7" fill="#2f4d80"/>
<circle cx="227.40" cy="405.30" r="1.7" fill="#a5002b"/>
<circle cx="237.47" cy="334.20" r="1.7" fill="#a5002b"/>
<circle cx="247.54" cy="347.60" r="1.7" fill="#a5002b"/>
<circle cx="257.61" cy="359.00" r="1.7" fill="#a5002b"/>
<circle cx="267.68" cy="371.80" r="1.7" fill="#a5002b"/>
<circle cx="277.75" cy="380.90" r="1.7" fill="#a5002b"/>
<circle cx="287.82" cy="384.50" r="1.7" fill="#a5002b"/>
<circle cx="297.89" cy="386.70" r="1.7" fill="#a5002b"/>
<circle cx="307.96" cy="389.90" r="1.7" fill="#a5002b"/>
<circle cx="318.03" cy="389.70" r="1.7" fill="#a5002b"/>
<circle cx="328.10" cy="388.50" r="1.7" fill="#a5002b"/>
<circle cx="338.17" cy="391.90" r="1.7" fill="#a5002b"/>
<circle cx="348.24" cy="396.80" r="1.7" fill="#a5002b"/>
<circle cx="358.31" cy="394.80" r="1.7" fill="#a5002b"/>
<circle cx="368.38" cy="400.20" r="1.7" fill="#a5002b"/>
<circle cx="378.45" cy="398.30" r="1.7" fill="#a5002b"/>
<circle cx="233.25" cy="323.00" r="1.15" fill="#111"/>
<circle cx="237.22" cy="323.00" r="1.15" fill="#111"/>
<circle cx="241.19" cy="323.00" r="1.15" fill="#111"/>
<circle cx="247.50" cy="336.90" r="1.15" fill="#111"/>
<line x1="325.20" y1="318.30" x2="334.60" y2="318.30" stroke="#a5002b" stroke-width="1.8"/>
<circle cx="330" cy="318.3" r="1.7" fill="#a5002b"/>
<text x="338.10" y="320.80" font-size="8.1" text-anchor="start" font-weight="normal" >WT</text>
<line x1="325.20" y1="329.80" x2="334.60" y2="329.80" stroke="#2f4d80" stroke-width="1.8"/>
<circle cx="330" cy="329.8" r="1.7" fill="#2f4d80"/>
<text transform="translate(338.10,331.80) scale(1.0,1)" font-size="8.1" text-anchor="start">CD99<tspan font-size="5.35" dy="-3.40" style="stroke-width:0.12px">-/-</tspan></text>
<g shape-rendering="crispEdges">
<rect x="0" y="1" width="2" height="465" fill="#808080"/>
<rect x="0" y="0" width="520" height="2" fill="#969696"/>
<rect x="518" y="0" width="2" height="466" fill="#787878"/>
<rect x="0" y="464" width="520" height="2" fill="#6e6e6e"/>
<rect x="0" y="0" width="1" height="466" fill="#000"/>
<rect x="0" y="0" width="520" height="1" fill="#000"/>
<rect x="519" y="0" width="1" height="466" fill="#000"/>
<rect x="0" y="465" width="520" height="1" fill="#000"/>
</g>
</svg></div></body></html>
